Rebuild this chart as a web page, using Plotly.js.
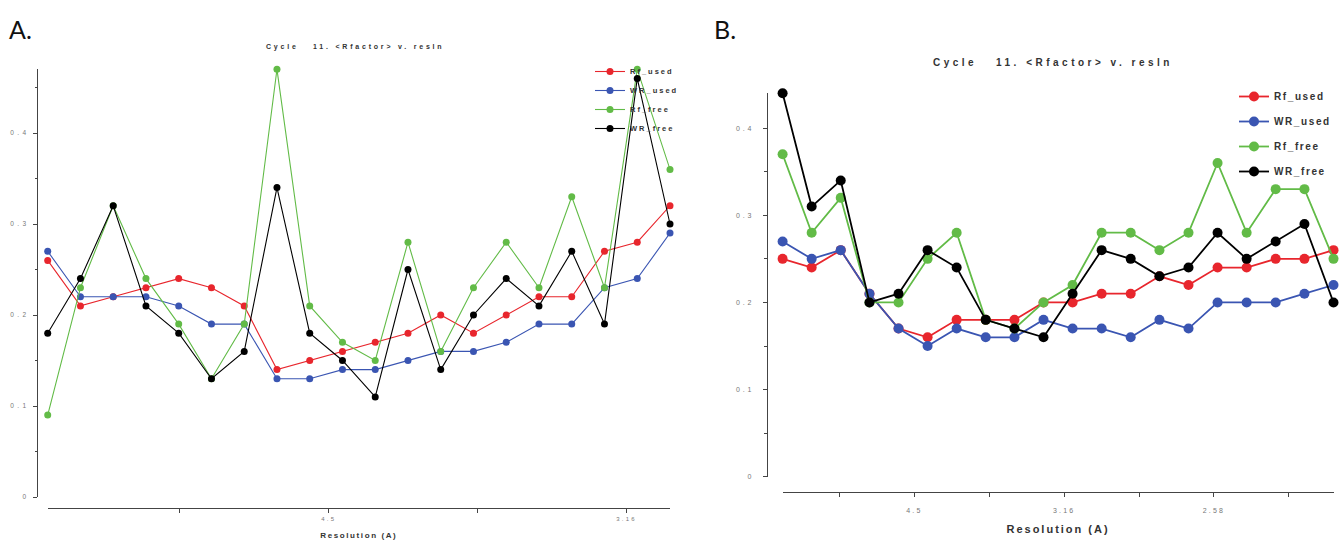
<!DOCTYPE html>
<html><head><meta charset="utf-8">
<script src="https://cdn.plot.ly/plotly-3.0.1.min.js"></script>
<style>html,body{margin:0;padding:0;background:#fff}#chart{width:1342px;height:542px}</style>
</head><body><div id="chart"></div>
<script>
// ---------- data ----------
const seriesNames = ['Rf_used', 'WR_used', 'Rf_free', 'WR_free'];
const seriesColors = ['#e8262d', '#3a55b2', '#62bb47', '#000000'];
const chartTitle = 'Cycle\u00a0\u00a0\u00a011.\u00a0<Rfactor>\u00a0v.\u00a0resln';
const xTitle = 'Resolution (A)';
const yTickVals = [0, 0.1, 0.2, 0.3, 0.4];
const yTickText = ['0', '0.1', '0.2', '0.3', '0.4'];
const yMinorVals = [0.05, 0.15, 0.25, 0.35, 0.45];

// Panel A: 1/d^2 bin centres
const sA = [0.0028, 0.0083, 0.0138, 0.0193, 0.0248, 0.0303, 0.0358, 0.0413, 0.0468, 0.0523,
            0.0578, 0.0633, 0.0688, 0.0743, 0.0798, 0.0853, 0.0908, 0.0963, 0.1018, 0.1073];
const rfUsedA = [0.26, 0.21, 0.22, 0.23, 0.24, 0.23, 0.21, 0.14, 0.15, 0.16, 0.17, 0.18, 0.20, 0.18, 0.20, 0.22, 0.22, 0.27, 0.28, 0.32];
const wrUsedA = [0.27, 0.22, 0.22, 0.22, 0.21, 0.19, 0.19, 0.13, 0.13, 0.14, 0.14, 0.15, 0.16, 0.16, 0.17, 0.19, 0.19, 0.23, 0.24, 0.29];
const rfFreeA = [0.09, 0.23, 0.32, 0.24, 0.19, 0.13, 0.19, 0.47, 0.21, 0.17, 0.15, 0.28, 0.16, 0.23, 0.28, 0.23, 0.33, 0.23, 0.47, 0.36];
const wrFreeA = [0.18, 0.24, 0.32, 0.21, 0.18, 0.13, 0.16, 0.34, 0.18, 0.15, 0.11, 0.25, 0.14, 0.20, 0.24, 0.21, 0.27, 0.19, 0.46, 0.30];
const xTickValsA = [0.025, 0.05, 0.075, 0.10];
const xTickTextA = ['', '4.5', '', '3.16'];

// Panel B
const sB = [0.0060, 0.0157, 0.0254, 0.0350, 0.0447, 0.0544, 0.0641, 0.0738, 0.0834, 0.0931,
            0.1028, 0.1125, 0.1222, 0.1318, 0.1415, 0.1512, 0.1609, 0.1706, 0.1802, 0.1899];
const rfUsedB = [0.25, 0.24, 0.26, 0.21, 0.17, 0.16, 0.18, 0.18, 0.18, 0.20, 0.20, 0.21, 0.21, 0.23, 0.22, 0.24, 0.24, 0.25, 0.25, 0.26];
const wrUsedB = [0.27, 0.25, 0.26, 0.21, 0.17, 0.15, 0.17, 0.16, 0.16, 0.18, 0.17, 0.17, 0.16, 0.18, 0.17, 0.20, 0.20, 0.20, 0.21, 0.22];
const rfFreeB = [0.37, 0.28, 0.32, 0.20, 0.20, 0.25, 0.28, 0.18, 0.17, 0.20, 0.22, 0.28, 0.28, 0.26, 0.28, 0.36, 0.28, 0.33, 0.33, 0.25];
const wrFreeB = [0.44, 0.31, 0.34, 0.20, 0.21, 0.26, 0.24, 0.18, 0.17, 0.16, 0.21, 0.26, 0.25, 0.23, 0.24, 0.28, 0.25, 0.27, 0.29, 0.20];
const xTickValsB = [0.025, 0.05, 0.075, 0.10, 0.125, 0.15, 0.175];
const xTickTextB = ['', '4.5', '', '3.16', '', '2.58', ''];

// ---------- build ----------
const W = 1342, H = 542;
const px = v => v / W;
const py = v => 1 - v / H;
const sp = (t, n) => '<span style="letter-spacing:' + n + 'px">' + t + '</span>';
const FONT = 'Liberation Sans, Arial, sans-serif';

const seriesA = [rfUsedA, wrUsedA, rfFreeA, wrFreeA];
const seriesB = [rfUsedB, wrUsedB, rfFreeB, wrFreeB];

const traces = [];
seriesA.forEach((ys, i) => traces.push({
  type: 'scatter', mode: 'lines+markers', x: sA, y: ys, xaxis: 'x', yaxis: 'y',
  name: sp(seriesNames[i], 2), legend: 'legend', legendgroup: 'a' + i,
  line: {color: seriesColors[i], width: 1.1}, marker: {color: seriesColors[i], size: 7},
  cliponaxis: false, hoverinfo: 'x+y'
}));
seriesB.forEach((ys, i) => traces.push({
  type: 'scatter', mode: 'lines+markers', x: sB, y: ys, xaxis: 'x2', yaxis: 'y2',
  name: sp(seriesNames[i], 1.6), legend: 'legend2', legendgroup: 'b' + i,
  line: {color: seriesColors[i], width: 1.8}, marker: {color: seriesColors[i], size: 10},
  cliponaxis: false, hoverinfo: 'x+y'
}));

const axisCommon = {
  showgrid: false, zeroline: false, showline: true, linecolor: '#444', linewidth: 1.3,
  ticks: 'outside', tickcolor: '#444', tickwidth: 1, tickmode: 'array', fixedrange: true
};

const layout = {
  width: W, height: H, margin: {l: 0, r: 0, t: 0, b: 0}, autosize: false,
  paper_bgcolor: '#fff', plot_bgcolor: 'rgba(0,0,0,0)',
  font: {family: FONT, color: '#222'},
  showlegend: true,
  xaxis: Object.assign({}, axisCommon, {
    domain: [px(47.7), px(670)], range: [sA[0], sA[sA.length - 1]],
    anchor: 'free', position: py(508), ticklen: 4,
    tickvals: xTickValsA, ticktext: xTickTextA.map(t => sp(t, 2.2)),
    tickfont: {size: 6, color: '#777'},
    title: {text: sp(xTitle, 1.6), font: {size: 8, weight: 'bold', color: '#333'}, standoff: 12}
  }),
  yaxis: Object.assign({}, axisCommon, {
    domain: [py(497), py(69.3)], range: [0, 0.47],
    anchor: 'free', position: px(37), ticklen: 4, ticklabelstandoff: 2,
    tickvals: yTickVals, ticktext: yTickText.map(t => sp(t, 3.5)),
    tickfont: {size: 6.5, color: '#777'},
    minor: {tickmode: 'array', tickvals: yMinorVals, ticks: 'outside', ticklen: 2, tickcolor: '#444'}
  }),
  xaxis2: Object.assign({}, axisCommon, {
    domain: [px(782.6), px(1333.5)], range: [sB[0], sB[sB.length - 1]],
    anchor: 'free', position: py(491.7), ticklen: 4, ticklabelstandoff: 8,
    tickvals: xTickValsB, ticktext: xTickTextB.map(t => sp(t, 2.2)),
    tickfont: {size: 7, color: '#777'},
    title: {text: sp(xTitle, 2), font: {size: 11, weight: 'bold', color: '#333'}, standoff: 12}
  }),
  yaxis2: Object.assign({}, axisCommon, {
    domain: [py(476.7), py(93.3)], range: [0, 0.44],
    anchor: 'free', position: px(766.5), ticklen: 4, ticklabelstandoff: 7,
    tickvals: yTickVals, ticktext: yTickText.map(t => sp(t, 2.8)),
    tickfont: {size: 7, color: '#777'},
    minor: {tickmode: 'array', tickvals: yMinorVals.slice(0, 4), ticks: 'outside', ticklen: 3, tickcolor: '#444'}
  }),
  legend: {
    x: px(590), y: py(57), xanchor: 'left', yanchor: 'top',
    bgcolor: 'rgba(0,0,0,0)', borderwidth: 0, traceorder: 'grouped', tracegroupgap: 0,
    font: {size: 7.5, weight: 'bold', color: '#333', family: FONT}
  },
  legend2: {
    x: px(1234), y: py(82), xanchor: 'left', yanchor: 'top',
    bgcolor: 'rgba(0,0,0,0)', borderwidth: 0, traceorder: 'grouped', tracegroupgap: 6,
    font: {size: 10, weight: 'bold', color: '#333', family: FONT}
  },
  annotations: [
    {text: 'A.', x: px(7), y: py(12), xref: 'paper', yref: 'paper', xanchor: 'left', yanchor: 'top',
     showarrow: false, font: {family: 'Lato, Open Sans, sans-serif', size: 25, color: '#111'}},
    {text: 'B.', x: px(712), y: py(12), xref: 'paper', yref: 'paper', xanchor: 'left', yanchor: 'top',
     showarrow: false, font: {family: 'Lato, Open Sans, sans-serif', size: 25, color: '#111'}},
    {text: sp(chartTitle, 2.8), x: px(355), y: py(47), xref: 'paper', yref: 'paper', xanchor: 'center', yanchor: 'middle',
     showarrow: false, font: {size: 7, weight: 'bold', color: '#333'}},
    {text: sp(chartTitle, 3.5), x: px(1053), y: py(63), xref: 'paper', yref: 'paper', xanchor: 'center', yanchor: 'middle',
     showarrow: false, font: {size: 10, weight: 'bold', color: '#333'}}
  ]
};

Plotly.newPlot('chart', traces, layout, {staticPlot: true, displayModeBar: false});
</script>
</body></html>
